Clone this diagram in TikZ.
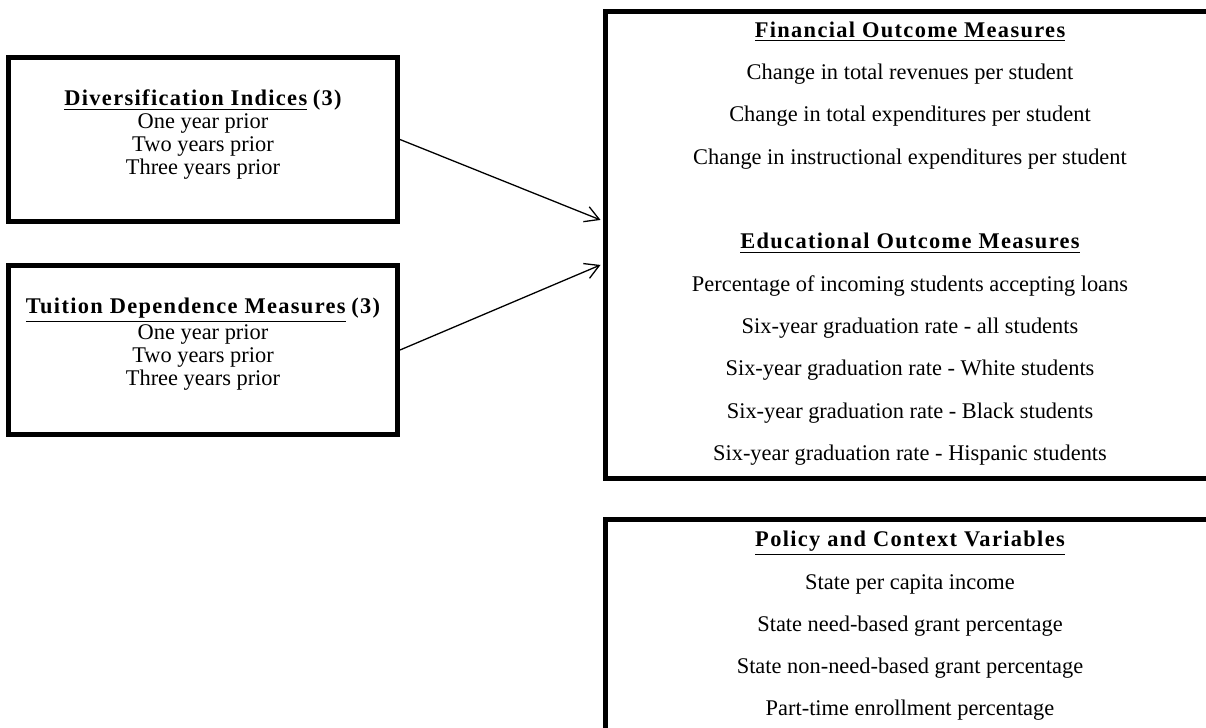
\documentclass[tikz,border=0pt]{standalone}
\usepackage{fontspec}
\setmainfont{Liberation Serif}
\newfontfamily\spaced[LetterSpace=6]{Liberation Serif}
\usetikzlibrary{arrows.meta}
\tikzset{
  frame/.style={draw, line width=2.5pt, inner sep=0pt},
  tight/.style={align=center, font=\fontsize{11.2}{11.5}\selectfont},
  loose/.style={align=center, font=\fontsize{11.2}{21.15}\selectfont},
  conn/.style={line width=0.65pt, -{Straight Barb[length=7pt,width=8pt]}},
}
\newcommand{\hd}[1]{\underline{\spaced\bfseries #1}}
\newcommand{\cnt}[1]{{\spaced\bfseries #1}}

\begin{document}
\begin{tikzpicture}[x=0.5pt,y=-0.5pt]
  \useasboundingbox (0,0) rectangle (1206,728);
  \clip (0,0) rectangle (1206,728);

  % predictors
  \node[frame, minimum width=194.5pt, minimum height=82pt] (div) at (203,139.5) {};
  \node[tight] (divtxt) at (203,135) {\hd{Diversification Indices} \cnt{(3)}\\
    One year prior\\ Two years prior\\ Three years prior};

  \node[frame, minimum width=194.5pt, minimum height=84.5pt] (tui) at (203,350) {};
  \node[tight] (tuitxt) at (203,344) {\hd{Tuition Dependence Measures} \cnt{(3)}\\
    One year prior\\ Two years prior\\ Three years prior};

  % outcomes
  \node[frame, minimum width=304.75pt, minimum height=233.75pt] (out) at (910.25,244.75) {};
  \node[loose] (outtxt) at (910,243.5) {\hd{Financial Outcome Measures}\\
    Change in total revenues per student\\
    Change in total expenditures per student\\
    Change in instructional expenditures per student\\[21.15pt]
    \hd{Educational Outcome Measures}\\
    Percentage of incoming students accepting loans\\
    Six-year graduation rate - all students\\
    Six-year graduation rate - White students\\
    Six-year graduation rate - Black students\\
    Six-year graduation rate - Hispanic students};

  % controls
  \node[frame, minimum width=304.75pt, minimum height=190pt] (pol) at (910.25,709.75) {};
  \node[loose] (poltxt) at (910,626) {\hd{Policy and Context Variables}\\
    State per capita income\\
    State need-based grant percentage\\
    State non-need-based grant percentage\\
    Part-time enrollment percentage};

  \coordinate (in1) at ([xshift=-1.25pt,yshift=12.4pt]out.west);
  \coordinate (in2) at ([xshift=-1.25pt,yshift=-10.1pt]out.west);
  \draw[conn] (div.east) -- (in1);
  \draw[conn] (tui.east) -- (in2);
\end{tikzpicture}
\end{document}
